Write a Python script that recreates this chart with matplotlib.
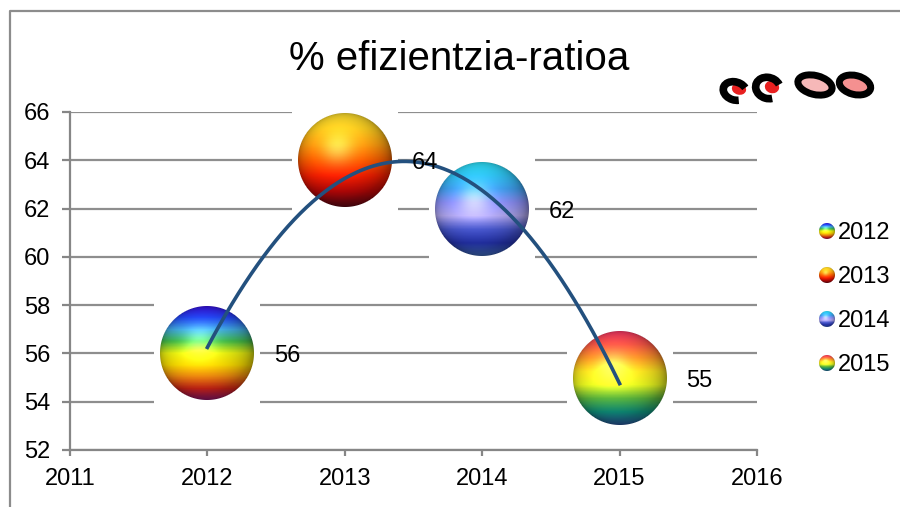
import numpy as np
import matplotlib
matplotlib.use("Agg")
import matplotlib.pyplot as plt
from matplotlib.colors import LinearSegmentedColormap
from matplotlib.offsetbox import OffsetImage, AnnotationBbox
from matplotlib.patches import Ellipse, Arc

years = [2012, 2013, 2014, 2015]
ratio = [56, 64, 62, 55]
labels = ["2012", "2013", "2014", "2015"]
title = "% efizientzia-ratioa"

# bubble colours, top to bottom
bubble_colors = [
    ["#3a10e8", "#2448f8", "#40a8e0", "#40b848", "#e8f010", "#ffe000", "#ff9010", "#e82818", "#a01878"],
    ["#ffe030", "#ffd020", "#ffa010", "#ff6000", "#ff2000", "#c80808", "#6a0818"],
    ["#30e8ff", "#30c8f8", "#40a0f0", "#8c90f8", "#b4aaf4", "#4c5cd8", "#2838c0", "#4878d0"],
    ["#ff3868", "#ff5848", "#ff9828", "#ffe820", "#f0ff20", "#60c040", "#10a088", "#3060b0"],
]

plt.rcParams['font.family'] = ['Liberation Sans', 'DejaVu Sans']


def sphere(cols, n, r):
    cmap = LinearSegmentedColormap.from_list("s", cols)
    yy, xx = np.mgrid[0:n, 0:n]
    c = (n - 1) / 2
    u = (xx - c) / r
    v = (c - yy) / r
    d2 = u**2 + v**2
    z = np.sqrt(np.clip(1 - d2, 0, 1))
    base = cmap(np.clip((1 - v) / 2, 0, 1))[..., :3]
    L = np.array([-0.3, 0.45, 0.84])
    L = L / np.linalg.norm(L)
    diff = np.clip(u * L[0] + v * L[1] + z * L[2], 0, 1)
    rgb = base * (0.35 + 0.45 * z ** 0.5 + 0.3 * diff)[..., None]
    H = L + np.array([0, 0, 1.0])
    H = H / np.linalg.norm(H)
    spec = np.clip(u * H[0] + v * H[1] + z * H[2], 0, 1) ** 18
    rgb = np.clip(rgb + 0.25 * spec[..., None], 0, 1)
    edge = np.clip((1 - np.sqrt(d2)) * r, 0, 1)[..., None]
    img = np.ones((n, n, 3)) * (1 - edge) + rgb * edge
    return img


fig = plt.figure(figsize=(9, 5.07), dpi=100)
ax = fig.add_axes([70 / 900, 1 - 450 / 507, 687 / 900, 338 / 507])
ax.set_xlim(2011, 2016)
ax.set_ylim(52, 66)
ax.set_xticks(range(2011, 2017))
ax.set_yticks(range(52, 67, 2))
ax.yaxis.grid(True, color='#8e8e8e', lw=1.6)
ax.set_axisbelow(True)
for s in ['top', 'right']:
    ax.spines[s].set_visible(False)
for s in ['left', 'bottom']:
    ax.spines[s].set_color('#868686')
    ax.spines[s].set_linewidth(1.6)
ax.tick_params(axis='y', length=6, width=1.6, color='#868686', pad=8, labelsize=17)
ax.tick_params(axis='x', length=4, width=1.6, color='#868686', pad=9, labelsize=17)

for yr, val, cols in zip(years, ratio, bubble_colors):
    im = OffsetImage(sphere(cols, 106, 47.5), zoom=1, dpi_cor=False)
    ab = AnnotationBbox(im, (yr, val), frameon=False, pad=0, zorder=3)
    ax.add_artist(ab)
    ax.annotate(str(val), (yr, val), xytext=(48, -6.5), textcoords='offset points',
                ha='left', va='baseline', fontsize=17, zorder=5)

# polynomial (order 2) trend line
p = np.polynomial.Polynomial.fit(years, ratio, 2)
xs = np.linspace(years[0], years[-1], 200)
ax.plot(xs, p(xs), color='#23507e', lw=2.6, zorder=4)

fig.text(459 / 900, 1 - 70 / 507, title, ha='center', va='baseline', fontsize=29)

# overlay in pixel units: frame, legend, logo
ov = fig.add_axes([0, 0, 1, 1])
ov.set_xlim(0, 900)
ov.set_ylim(507, 0)
ov.axis('off')
ov.patch.set_alpha(0)
ov.plot([10, 10, 900], [507, 11, 11], color='#8c8c8c', lw=1.6)

for i, (lab, cols) in enumerate(zip(labels, bubble_colors)):
    y = 231 + 44 * i
    im = OffsetImage(sphere(cols, 20, 8.5), zoom=1, dpi_cor=False)
    ov.add_artist(AnnotationBbox(im, (827, y), frameon=False, pad=0))
    ov.text(838, y + 8, lab, va='baseline', ha='left', fontsize=17)

# CCOO logo
ov.add_patch(Ellipse((739, 89), 13, 10, angle=15, color='#e82020'))
ov.add_patch(Arc((735, 91), 24, 18, angle=18, theta1=50, theta2=325, color='black', lw=5.5))
ov.add_patch(Ellipse((772, 87), 13, 11, angle=15, color='#e82020'))
ov.add_patch(Arc((768, 88), 25, 21, angle=18, theta1=50, theta2=325, color='black', lw=5.5))
ov.add_patch(Ellipse((815, 85), 35, 19, angle=14, facecolor='#f6b8b8', edgecolor='black', lw=5))
ov.add_patch(Ellipse((855, 85), 32, 19, angle=14, facecolor='#f49090', edgecolor='black', lw=5))

fig.savefig("out.png", dpi=100)
